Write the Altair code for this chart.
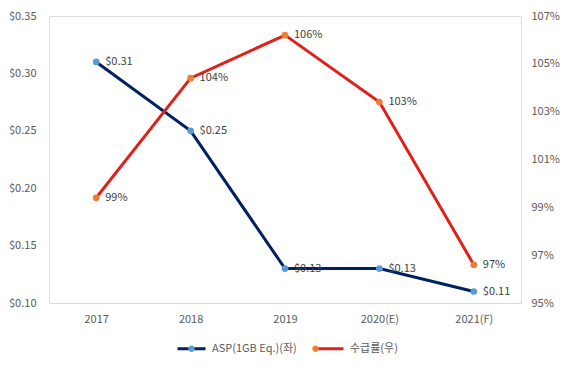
import altair as alt
import pandas as pd

years = ["2017", "2018", "2019", "2020(E)", "2021(F)"]
asp = [0.31, 0.25, 0.13, 0.13, 0.11]
supply = [0.994, 1.044, 1.062, 1.034, 0.966]
series_names = ["ASP(1GB Eq.)(좌)", "수급률(우)"]
marker_names = [s + "\u200b" for s in series_names]
line_colors = ["#002060", "#e0201a"]
marker_colors = ["#5b9bd5", "#ed7d31"]
left_ticks = [0.10, 0.15, 0.20, 0.25, 0.30, 0.35]
right_ticks = [0.95, 0.97, 0.99, 1.01, 1.03, 1.05, 1.07]

df_asp = pd.DataFrame({"year": years, "value": asp, "series": series_names[0],
                       "marker": marker_names[0]})
df_sup = pd.DataFrame({"year": years, "value": supply, "series": series_names[1],
                       "marker": marker_names[1]})

FONT = "Noto Sans CJK KR"
LBL = "#595959"
LEG_X, LEG_Y = 136, 326

x = alt.X("year:N", sort=years, title=None,
          axis=alt.Axis(labelAngle=0, ticks=False, domain=True, domainColor="#d9d9d9", domainWidth=1,
                        labelColor=LBL, labelFontSize=11, labelPadding=10, grid=False, labelFont=FONT))

common_leg = dict(orient="none", direction="horizontal", legendX=LEG_X, legendY=LEG_Y,
                  labelFontSize=11, labelFont=FONT, columnPadding=12, title=None,
                  symbolOffset=0, labelOffset=14)

color = alt.Color("series:N", title=None,
                  scale=alt.Scale(domain=series_names, range=line_colors),
                  legend=alt.Legend(symbolType="M-3,0H3", symbolSize=87, symbolStrokeWidth=3,
                                    labelColor=LBL, zindex=0, **common_leg))

fill = alt.Fill("marker:N", title=None,
                scale=alt.Scale(domain=marker_names, range=marker_colors),
                legend=alt.Legend(symbolType="M0.5,0A0.5,0.5 0 1,1 -0.5,0A0.5,0.5 0 1,1 0.5,0Z",
                                  symbolSize=169, symbolStrokeWidth=0, labelOpacity=0, zindex=1,
                                  **common_leg))

yl = alt.Y("value:Q", title=None,
           scale=alt.Scale(domain=[0.10, 0.35], nice=False, zero=False),
           axis=alt.Axis(values=left_ticks, format="$.2f", ticks=False, domain=False, domainOpacity=0,
                         grid=False, labelColor=LBL, labelFontSize=11, labelPadding=13, labelFont=FONT))
yr = alt.Y("value:Q", title=None,
           scale=alt.Scale(domain=[0.95, 1.07], nice=False, zero=False),
           axis=alt.Axis(orient="right", values=right_ticks, format=".0%", ticks=False, domain=False,
                         domainOpacity=0, grid=False, labelColor=LBL, labelFontSize=11,
                         labelPadding=10, labelFont=FONT))


def series_layer(df, y, fmt):
    base = alt.Chart(df).encode(x=x, y=y)
    line = base.mark_line(strokeWidth=3).encode(color=color)
    pts = base.mark_circle(size=45, opacity=1).encode(fill=fill)
    txt = base.mark_text(align="left", baseline="middle", dx=9, fontSize=11, color="#404040",
                         font=FONT).encode(text=alt.Text("value:Q", format=fmt))
    return alt.layer(line, pts, txt)


left = series_layer(df_asp, yl, "$.2f")
right = series_layer(df_sup, yr, ".0%")

chart = alt.layer(left, right).resolve_scale(y="independent").properties(
    width=472, height=287,
    autosize=alt.AutoSizeParams(type="none"),
    padding={"left": 41, "top": 8, "right": 39, "bottom": 56},
).configure_view(strokeWidth=0, strokeOpacity=0).configure_axisY(
    domain=False, domainOpacity=0).configure(font=FONT)

chart.save("out.html", embed_options={"renderer": "svg", "actions": False})
